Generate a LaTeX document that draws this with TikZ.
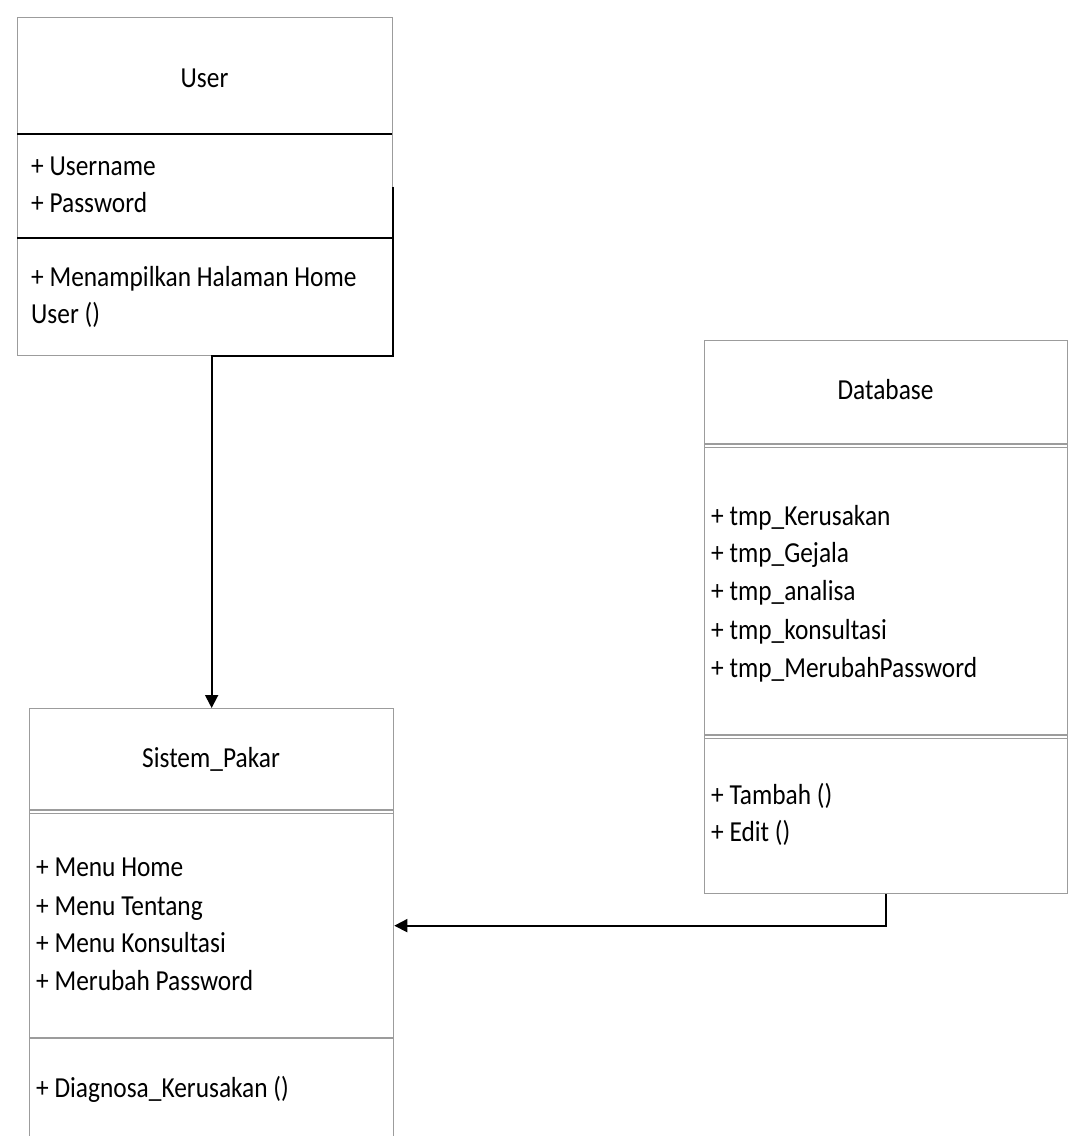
\documentclass[tikz,border=0pt]{standalone}
\usepackage{fontspec}
\setmainfont{Carlito}[FakeStretch=0.875]
\usetikzlibrary{arrows.meta}
\definecolor{framegray}{HTML}{9C9C9C}

\tikzset{
  x=1pt, y=-1pt,
  frame/.style={draw=framegray, line width=1.3pt, inner sep=0pt, anchor=north west},
  thinrule/.style={draw=framegray, line width=1.3pt},
  boldrule/.style={draw=black, line width=1.8pt},
  classname/.style={font=\fontsize{29}{35}\selectfont, anchor=base, inner sep=0pt},
  member/.style={font=\fontsize{29}{35}\selectfont, anchor=base west, inner sep=0pt},
  link/.style={draw=black, line width=1.8pt, -{Triangle[length=13pt,width=13pt]}}
}

\begin{document}
\begin{tikzpicture}
\useasboundingbox[fill=white] (0,0) rectangle (1069,1136);

% ---------- User ----------
\node[frame, minimum width=375pt, minimum height=338pt] (user) at (17,17) {};
\draw[boldrule] (17,134) -- (392,134);
\draw[boldrule] (17,238) -- (392,238);
\node[classname] (userName) at (204.5,87) {User};
\node[member] (userA1) at (31,175) {+ Username};
\node[member] (userA2) at (31,212) {+ Password};
\node[member] (userM1) at (31,286) {+ Menampilkan Halaman Home};
\node[member] (userM2) at (31,323) {User ()};

% ---------- Database ----------
\node[frame, minimum width=363pt, minimum height=553pt] (db) at (704,340) {};
\draw[thinrule] (704,444) -- (1067,444);
\draw[thinrule] (704,447.5) -- (1067,447.5);
\draw[thinrule] (704,735) -- (1067,735);
\draw[thinrule] (704,738.5) -- (1067,738.5);
\node[classname] (dbName) at (885.5,399) {Database};
\node[member] (dbA1) at (711,525) {+ tmp\_Kerusakan};
\node[member] (dbA2) at (711,562) {+ tmp\_Gejala};
\node[member] (dbA3) at (711,600) {+ tmp\_analisa};
\node[member] (dbA4) at (711,639) {+ tmp\_konsultasi};
\node[member] (dbA5) at (711,677) {+ tmp\_MerubahPassword};
\node[member] (dbM1) at (711,804) {+ Tambah ()};
\node[member] (dbM2) at (711,841) {+ Edit ()};

% ---------- Sistem_Pakar ----------
\node[frame, minimum width=364pt, minimum height=434pt] (sp) at (29,708) {};
\draw[thinrule] (29,810) -- (393,810);
\draw[thinrule] (29,813.5) -- (393,813.5);
\draw[thinrule] (29,1038) -- (393,1038);
\node[classname] (spName) at (211,767) {Sistem\_Pakar};
\node[member] (spA1) at (36,876) {+ Menu Home};
\node[member] (spA2) at (36,915) {+ Menu Tentang};
\node[member] (spA3) at (36,952) {+ Menu Konsultasi};
\node[member] (spA4) at (36,990) {+ Merubah Password};
\node[member] (spM1) at (36,1097) {+ Diagnosa\_Kerusakan ()};

% ---------- connectors ----------
\draw[link] (user.east) -- (user.south east) -- (user.south east -| sp.north) -- (sp.north);
\draw[link] (db.south) |- (sp.east);
\end{tikzpicture}
\end{document}
